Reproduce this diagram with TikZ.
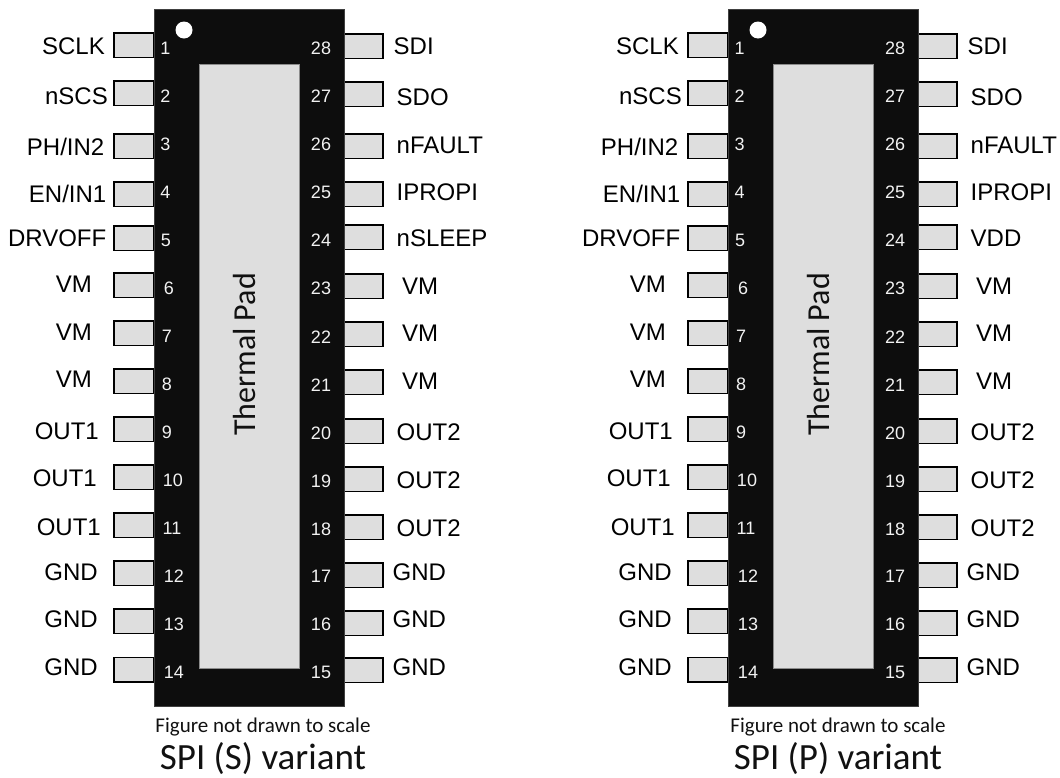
\documentclass[tikz,border=0pt]{standalone}
\usepackage{fontspec}
\setmainfont{Liberation Sans}
\newfontfamily\calib{Carlito}
\tikzset{
  pinbox/.style={draw=black,line width=1.5pt,fill=pinfill,minimum width=40pt,minimum height=24.5pt,inner sep=0pt,outer sep=0pt},
  chipbody/.style={draw=chipedge,line width=0.8pt,fill=chipfill},
  padbox/.style={draw=padedge,line width=0.8pt,fill=pinfill},
  pinnum/.style={text=numcolor,inner sep=0pt,font=\fontsize{18}{19}\selectfont,text height=12.9pt,text depth=0pt},
  lbl/.style={text=black,inner sep=0pt,font=\fontsize{24}{25}\selectfont,text height=17.2pt,text depth=0pt},
  lbll/.style={lbl,anchor=east},
  lblr/.style={lbl,anchor=west},
  note/.style={inner sep=0pt,anchor=base,text=notecolor,font=\calib\fontsize{21}{22}\selectfont},
  variantname/.style={inner sep=0pt,anchor=base,text=notecolor,font=\calib\fontsize{37}{38}\selectfont},
  padtext/.style={inner sep=0pt,anchor=base,rotate=90,text=notecolor,font=\calib\fontsize{32}{33}\selectfont},
}
\definecolor{pinfill}{HTML}{DEDEDE}
\definecolor{chipfill}{HTML}{0D0D0D}
\definecolor{chipedge}{HTML}{404040}
\definecolor{padedge}{HTML}{8C8C8C}
\definecolor{numcolor}{HTML}{F2F2F2}
\definecolor{notecolor}{HTML}{111111}
\newcommand{\pkgdrawing}[5]{%
 \begin{scope}[shift={(#2,0)}]
  \foreach \n/\c in {1/45,2/93,3/146,4/194,5/238,6/285,7/333,8/381,9/429,10/477,11/525,12/573,13/621,14/669.5}
    \node[pinbox] (#1pin\n) at (134,\c) {};
  \foreach \n/\c in {28/46,27/94,26/146,25/194,24/237,23/286,22/334,21/382,20/431,19/479,18/527,17/575,16/623,15/670}
    \node[pinbox,minimum width=39pt] (#1pin\n) at (363.5,\c) {};
  \path[chipbody] (154,9) rectangle (344,706);
  \path[padbox] (199,64) rectangle (299,668);
  \fill[white] (184,30) circle (8.5);
  \node[padtext] (#1pad) at (255,354.5) {Thermal Pad};
  \foreach \n/\x/\y in {1/165.5/48,2/165.5/96,3/165.5/144,4/165.5/192,5/166/240,6/169/288,7/167/336,8/167/384,9/167/432,10/173/480,11/172/528,12/174/576,13/174/624,14/174/672,28/321/48,27/321/96,26/321/144,25/321/192,24/321/240,23/321/288,22/321/337,21/321/385,20/321/433,19/321/481,18/321/529,17/321/576,16/321/624,15/321/672}
    \node[pinnum] (#1num\n) at (\x,\y) {\n};
  \foreach \n/\x/\y/\t in {1/105/46/SCLK,2/108/96/nSCS,3/104.5/147/{PH/IN2},4/106.5/194/{EN/IN1},5/106.5/238/DRVOFF,6/92/284/VM,7/92/332/VM,8/92/379/VM,9/99/431/OUT1,10/97/478/OUT1,11/101/527/OUT1,12/98/572/GND,13/98/619/GND,14/98/667/GND}
    \node[lbll] (#1lab\n) at (\x,\y) {\t};
  \foreach \n/\x/\y/\t in {28/393.5/46/SDI,27/396.5/97/SDO,26/396.5/145/nFAULT,25/396.5/192/IPROPI,24/396.5/238/#3,23/402/286/VM,22/402/333/VM,21/402/381/VM,20/396.5/432/OUT2,19/396.5/480/OUT2,18/396.5/528/OUT2,17/392.5/572/GND,16/392.5/619/GND,15/392.5/667/GND}
    \node[lblr] (#1lab\n) at (\x,\y) {\t};
  \node[note] (#1note) at (#5,732) {Figure not drawn to scale};
  \node[variantname] (#1name) at (#5,769) {#4};
 \end{scope}
}
\begin{document}
\begin{tikzpicture}[x=1pt,y=-1pt]
\useasboundingbox (0,0) rectangle (1060,777);
\pkgdrawing{s}{0}{nSLEEP}{SPI (S) variant}{263}
\pkgdrawing{p}{574}{VDD}{SPI (P) variant}{264}
\end{tikzpicture}
\end{document}
